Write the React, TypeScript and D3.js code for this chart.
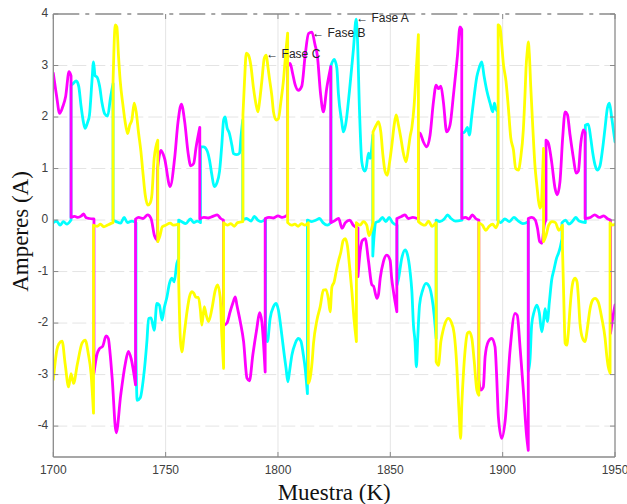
import React from 'react';
import * as d3 from 'd3';

type P = [number, number];

const xTicks = [1700, 1750, 1800, 1850, 1900, 1950];
const yTicks = [-4, -3, -2, -1, 0, 1, 2, 3, 4];
const xDomain: P = [1700, 1950];
const yDomain: P = [-4.6, 4];

// Fase A (cyan) — a repeated x marks a vertical jump
const faseA: P[] = [
  [1700,-0.05],[1701.5,-0.02],[1703,-0.1],[1704.5,-0.03],[1706,-0.08],[1707.9,0.0],
  [1707.9,2.62],[1708.8,2.65],[1710.2,2.7],[1711.3,2.6],[1712.3,2.23],[1713.5,1.88],[1714.2,1.78],[1715.3,1.9],[1716.1,2.04],[1717.2,2.69],[1717.9,3.07],[1718.6,2.8],[1719.4,2.78],[1720.6,2.6],[1721.7,2.27],[1722.8,2.07],[1724.2,2.02],[1725.4,2.36],[1726.6,2.65],
  [1726.6,0.0],[1728,-0.03],[1730,-0.06],[1731.5,0.05],[1733,-0.05],[1735,-0.02],[1736.8,-0.05],
  [1736.8,-2.6],[1737.3,-3.5],[1738.7,-3.45],[1740.2,-3.04],[1741.7,-2.33],[1742.4,-1.91],[1743.5,-1.9],[1744.9,-2.14],[1746.1,-1.62],[1747.2,-1.65],[1748.4,-1.94],[1749.4,-1.7],[1750.6,-1.49],[1751.7,-1.23],[1752.8,-1.13],[1753.8,-1.2],[1755,-0.84],[1755.8,-0.75],
  [1755.8,0.0],[1757,-0.03],[1759,-0.07],[1761,0.02],[1762.5,-0.05],[1764,-0.02],[1765.5,-0.05],
  [1765.5,1.42],[1766.9,1.42],[1768.4,1.35],[1769.5,1.17],[1770.6,0.87],[1771.6,0.65],[1772.8,0.72],[1774,0.95],[1775,1.46],[1775.8,1.94],[1776.5,2.0],[1777.3,1.8],[1778.4,1.68],[1779.5,1.45],[1780.2,1.29],[1781.7,1.27],[1782.9,1.3],[1783.5,1.6],[1784.3,1.94],
  [1784.3,0.0],[1786,0.03],[1788,-0.02],[1789.5,0.07],[1791,0.0],[1792.5,-0.03],[1794.5,0.02],
  [1794.5,-2.3],[1795.3,-2.36],[1796.5,-1.91],[1798,-1.68],[1799.2,-1.62],[1800.2,-1.75],[1801.7,-2.23],[1802.8,-2.62],[1803.6,-2.88],[1804.4,-3.14],[1805.1,-2.95],[1806.2,-2.62],[1807.7,-2.39],[1809.1,-2.3],[1810.2,-2.35],[1811.3,-2.62],[1812.1,-2.88],[1813.1,-3.37],
  [1813.1,0.0],[1815,-0.03],[1817,0.0],[1818.5,0.03],[1820,-0.05],[1822,-0.1],[1823.6,-0.05],
  [1823.6,3.0],[1825,3.12],[1826.2,2.95],[1826.9,2.45],[1828.4,1.9],[1829.1,1.71],[1830.1,1.85],[1831.8,2.5],[1833.6,3.33],[1834.8,3.9],[1835.3,3.6],[1836.3,2.1],[1837.3,1.13],[1838.5,0.95],[1839.2,1.0],[1840.3,1.3],[1841,1.2],[1842.2,1.65],
  [1842.2,-0.7],[1842.8,-0.3],[1843.5,-0.05],[1845,-0.02],[1846.5,0.05],[1848,-0.03],[1849.5,0.05],[1851,-0.05],[1853,-0.1],
  [1853,-1.26],[1853.6,-1.15],[1855.1,-0.74],[1856.6,-0.58],[1857.5,-0.65],[1858.8,-1.0],[1859.6,-1.39],[1860.3,-2.04],[1861,-2.36],[1861.6,-2.85],[1862.2,-2.3],[1863,-1.65],[1864.4,-1.36],[1865.9,-1.23],[1867.4,-1.3],[1868.5,-1.5],[1869.5,-1.84],[1870.4,-2.3],
  [1870.4,0.0],[1872,-0.03],[1874,0.02],[1875.5,0.1],[1877,0.03],[1879,-0.02],[1881.9,0.0],
  [1881.9,1.68],[1883.3,1.72],[1884.3,1.8],[1885.2,1.65],[1886.2,2.0],[1887.3,2.4],[1888.5,2.78],[1889.5,2.95],[1890.7,3.07],[1891.7,2.8],[1892.9,2.52],[1894.4,2.27],[1895.6,2.1],[1896.3,2.27],[1897.1,2.15],[1897.8,2.1],
  [1897.8,0.0],[1899,-0.05],[1901,0.02],[1903,-0.03],[1905,0.05],[1907,-0.02],[1909,-0.07],[1911.4,-0.03],
  [1911.4,-2.94],[1912.2,-2.69],[1912.9,-2.04],[1914,-1.78],[1915.2,-1.65],[1916.3,-1.8],[1917.4,-2.17],[1918.1,-2.0],[1918.9,-1.72],[1919.9,-1.97],[1920.8,-1.59],[1921.8,-1.17],[1922.9,-0.95],[1924,-0.74],[1924.8,-0.65],[1925.5,-0.55],[1926.4,-0.36],
  [1926.4,-0.05],[1928,0.0],[1929.5,-0.08],[1931,-0.03],[1932.5,0.05],[1934,-0.02],[1936.8,-0.05],
  [1936.8,1.84],[1938.1,1.86],[1939.2,1.59],[1940.1,1.3],[1941.1,1.07],[1942.1,0.97],[1943.3,1.05],[1944.5,1.39],[1945.6,1.8],[1946.6,2.17],[1947.5,2.27],[1948.5,2.0],[1949.4,1.71],[1950,1.52],
];

// Fase B (magenta)
const faseB: P[] = [
  [1700,2.85],[1701.5,2.4],[1702.8,2.07],[1704.2,2.2],[1705.5,2.4],[1707,2.88],[1707.9,2.8],
  [1707.9,0.05],[1709.5,0.07],[1711,0.05],[1712.5,0.08],[1713.5,0.12],[1714.5,0.05],[1716,0.03],[1718.1,0.02],
  [1718.1,-2.97],[1719.5,-2.6],[1720.5,-2.5],[1722,-2.45],[1723.5,-2.25],[1724.5,-2.3],[1725.3,-2.6],[1726.2,-3.07],[1728,-4.13],[1730,-3.4],[1732,-2.8],[1733.4,-2.55],[1734.7,-2.7],[1736.6,-3.2],
  [1736.6,0.02],[1738,0.05],[1740,0.03],[1742,0.1],[1743.5,0.03],[1745,-0.3],[1746.4,-0.4],
  [1746.4,1.0],[1747.9,1.35],[1749.5,1.2],[1752,0.65],[1754,1.2],[1755.5,1.9],[1757,2.25],[1758.5,1.9],[1760,1.3],[1761.2,1.05],[1762.5,1.1],[1763.5,1.4],[1765.2,1.8],
  [1765.2,0.02],[1767,0.05],[1769,0.04],[1771,0.07],[1773,0.1],[1774.5,0.03],[1775.7,0.0],
  [1775.7,-2.05],[1777.3,-2.0],[1778.7,-1.78],[1780,-1.6],[1781,-1.49],[1781.7,-1.65],[1783.2,-1.97],[1784.7,-2.36],[1786.2,-3.07],[1787.3,-3.12],[1788.8,-2.62],[1790.6,-2.1],[1791.8,-1.8],[1792.8,-1.97],[1794.3,-2.95],
  [1794.3,0.03],[1796,0.05],[1798,0.04],[1800,0.08],[1802,0.05],[1804.3,0.1],
  [1804.3,2.98],[1805.4,3.04],[1806.5,2.85],[1807.5,2.65],[1809.1,2.52],[1810.6,2.6],[1812.1,3.2],[1813.6,3.62],[1815.1,3.65],[1816.5,3.4],[1817.5,3.2],[1819,2.43],[1820.2,2.1],[1821.7,2.56],[1823.5,2.98],
  [1823.5,-0.05],[1825,-0.02],[1827,0.03],[1828.5,-0.16],[1830,-0.05],[1832,0.0],[1833.5,-0.1],[1835.6,-0.15],
  [1835.6,-1.1],[1836.6,-0.6],[1837.5,-0.4],[1838.8,-0.36],[1840.3,-0.8],[1841.8,-1.26],[1842.5,-1.28],[1844,-1.52],[1844.7,-1.45],[1845.5,-1.13],[1846.9,-0.81],[1848.4,-0.68],[1849.9,-0.78],[1850.6,-1.13],[1851.4,-1.39],[1852.9,-1.78],
  [1852.9,0.03],[1855,0.07],[1856.5,0.1],[1858,0.03],[1860,0.05],[1862.5,0.02],
  [1862.5,1.7],[1863.3,1.68],[1864.7,1.52],[1866.2,1.42],[1867.7,1.65],[1869.2,2.3],[1870.4,2.62],[1871.4,2.55],[1872.5,2.6],[1873.6,2.3],[1875.1,1.71],[1876.6,1.85],[1878.1,2.43],[1879.9,3.2],[1881,3.75],[1881.8,3.7],
  [1881.8,0.03],[1883.5,0.05],[1885,0.02],[1886.5,0.1],[1888,0.03],[1889.4,0.0],
  [1889.4,-3.1],[1890.2,-3.3],[1891.4,-3.24],[1892.2,-2.65],[1893.6,-2.36],[1895.1,-2.3],[1896.6,-2.46],[1897.3,-3.0],[1898.1,-3.82],[1899.6,-4.24],[1901.1,-3.9],[1903.3,-2.52],[1905.5,-1.81],[1906.5,-1.85],[1907.8,-2.5],[1909.2,-3.3],[1910.7,-4.21],[1911.4,-4.47],
  [1911.4,0.03],[1913,0.05],[1914.5,0.0],[1915.5,-0.16],[1916.5,-0.42],[1917.5,-0.45],[1918.5,-0.1],[1919.3,0.0],
  [1919.3,1.55],[1920.3,1.5],[1921.8,1.13],[1923.3,0.62],[1924.3,0.49],[1925.5,0.74],[1926.7,1.59],[1927.8,2.1],[1928.8,2.05],[1930,1.65],[1931.5,1.2],[1932.7,0.91],[1933.7,0.95],[1934.7,1.46],[1935.9,1.75],[1936.7,1.7],
  [1936.7,0.03],[1939,0.05],[1941,0.1],[1943,0.05],[1945,0.08],[1946.5,0.03],[1948,0.0],
  [1948,-2.2],[1949,-1.9],[1950,-1.65],
];

// Fase C (yellow)
const faseC: P[] = [
  [1700,-3.1],[1701.6,-2.52],[1702.5,-2.4],[1703.9,-2.35],[1705.3,-2.8],[1706.8,-3.24],[1707.9,-2.98],[1709,-3.17],[1710.7,-2.8],[1712.8,-2.39],[1714.2,-2.33],[1715.6,-2.6],[1716.8,-2.98],[1717.9,-3.75],
  [1717.9,-0.1],[1719.5,-0.12],[1721,-0.08],[1722.5,-0.13],[1724,-0.1],[1725.5,-0.07],[1726.6,-0.05],
  [1726.6,2.69],[1727.6,3.79],[1728.3,3.75],[1729,3.2],[1729.8,2.69],[1731,2.23],[1732,1.9],[1733.1,1.68],[1734,1.84],[1735,1.95],[1736,2.27],[1736.9,2.1],[1737.9,1.71],[1739,1.33],[1740,0.87],[1740.9,0.49],[1742.1,0.29],[1743.1,0.33],[1743.9,0.5],[1744.9,1.2],[1746.5,1.55],
  [1746.5,-0.42],[1747.5,-0.3],[1748.5,-0.13],[1750,-0.1],[1752,-0.06],[1753.5,-0.1],[1755.8,-0.08],
  [1755.8,-1.2],[1756.5,-2.27],[1757.2,-2.56],[1758.3,-2.2],[1759.5,-1.78],[1760.6,-1.49],[1761.7,-1.39],[1762.5,-1.42],[1763.5,-1.5],[1764.6,-1.5],[1765.4,-1.72],[1766.1,-2.04],[1767.2,-1.68],[1768.1,-1.85],[1769.1,-1.97],[1770.6,-1.72],[1772.1,-1.36],[1773.1,-1.26],[1774.3,-1.5],[1775,-2.23],[1775.8,-2.88],
  [1775.8,-0.05],[1777.5,-0.1],[1779,-0.07],[1780.5,-0.12],[1782,-0.05],[1784.4,-0.03],
  [1784.4,2.04],[1785.1,2.69],[1785.9,3.24],[1786.9,3.2],[1787.9,3.01],[1789.1,2.56],[1790.3,2.23],[1791.1,2.1],[1791.8,2.3],[1792.8,2.69],[1793.9,3.14],[1794.8,3.2],[1795.5,2.98],[1796.2,2.75],[1797.3,2.4],[1798,2.1],[1799.2,1.94],[1800.2,1.97],[1801.3,2.3],[1802.4,2.69],[1803.5,3.27],[1804.3,3.63],
  [1804.3,-0.05],[1806,-0.1],[1807.5,-0.08],[1809,-0.12],[1810.5,-0.07],[1812,-0.1],[1813.5,-0.05],
  [1813.5,-3.17],[1814.3,-3.07],[1815.2,-2.75],[1815.8,-2.4],[1817.3,-1.95],[1818.8,-1.68],[1820.2,-1.36],[1821.4,-1.35],[1822.5,-1.55],[1823.2,-1.78],[1824,-1.3],[1825,-1.2],[1825.9,-1.0],[1826.9,-0.8],[1828,-0.62],[1829,-0.4],[1829.9,-0.36],[1830.9,-0.5],[1831.8,-0.87],[1832.9,-1.39],[1833.9,-1.95],[1834.9,-2.36],
  [1834.9,-0.05],[1836.5,-0.1],[1838,-0.03],[1839.5,-0.1],[1840.5,-0.3],[1841.5,-0.2],[1842.3,-0.05],
  [1842.3,1.71],[1843.7,1.84],[1844.7,1.91],[1845.8,1.7],[1846.7,1.26],[1847.7,0.94],[1848.7,0.87],[1849.6,1.1],[1850.7,1.46],[1851.7,1.84],[1852.6,2.04],[1853.6,1.85],[1854.7,1.59],[1855.8,1.3],[1857,1.13],[1858.1,1.4],[1858.8,1.62],[1859.6,1.8],[1860.6,2.23],[1861.5,2.88],[1862.5,3.6],
  [1862.5,-0.03],[1864,-0.08],[1865.5,-0.1],[1867,-0.02],[1868.5,-0.12],[1870.4,-0.05],
  [1870.4,-2.75],[1871.4,-2.82],[1872.5,-2.36],[1873.5,-2.14],[1874.4,-2.0],[1875.8,-1.91],[1877,-1.97],[1878.4,-2.2],[1879.6,-2.85],[1880.2,-3.4],[1880.7,-3.82],[1881.3,-4.24],[1881.8,-3.6],[1882.5,-3.01],[1883.3,-2.52],[1884.3,-2.2],[1885.2,-2.17],[1886.3,-2.3],[1887.3,-2.72],[1888.5,-3.3],[1889.4,-3.4],
  [1889.4,-0.05],[1891,-0.1],[1892.5,-0.2],[1894,-0.12],[1895.5,-0.08],[1897,-0.15],[1898,-0.05],
  [1898,3.79],[1898.8,3.75],[1899.6,3.4],[1900.3,3.04],[1901.5,2.69],[1902.5,2.2],[1903.6,1.6],[1904.8,1.36],[1905.8,1.0],[1907,0.97],[1908,1.2],[1909.2,1.75],[1910,2.5],[1910.4,2.95],[1911,3.3],[1911.4,3.46],[1911.9,3.2],[1912.5,2.59],[1913.4,1.81],[1914.4,1.04],[1915.2,0.68],[1915.9,0.39],[1916.6,0.23],[1917.2,0.3],[1917.8,0.91],[1918.2,1.39],
  [1918.2,-0.42],[1919.3,-0.3],[1920.5,-0.1],[1922,-0.03],[1923.5,-0.05],[1925,-0.2],[1926.6,-0.1],
  [1926.6,-0.5],[1927.3,-1.7],[1927.8,-2.39],[1928.5,-2.43],[1929.2,-2.2],[1930,-1.7],[1930.7,-1.36],[1931.5,-1.17],[1932.2,-1.13],[1933.1,-1.2],[1933.7,-1.5],[1934.4,-2.0],[1935.6,-2.3],[1936.7,-2.36],[1937.7,-2.1],[1938.9,-1.72],[1940.1,-1.55],[1941.1,-1.52],[1942.6,-1.6],[1944.1,-1.9],[1945.6,-2.3],[1946.3,-2.62],[1947,-2.85],[1947.8,-2.97],
  [1947.8,-0.05],[1949,-0.1],[1950,-0.08],
];

const seriesNames = ['Fase A', 'Fase B', 'Fase C'];
const seriesColors = ['#00ffff', '#ff00ff', '#ffff00'];
const annotationPoints: P[] = [[1834.8, 3.9], [1815.2, 3.62], [1794.8, 3.2]];

const W = 627, H = 504;
const left = 53.3, right = 615, top = 14, bottom = 457;

function buildPath(pts: P[], x: d3.ScaleLinear<number, number>, y: d3.ScaleLinear<number, number>) {
  const runs: P[][] = [];
  let cur: P[] = [pts[0]];
  for (let i = 1; i < pts.length; i++) {
    if (pts[i][0] <= pts[i - 1][0]) { runs.push(cur); cur = [pts[i]]; }
    else cur.push(pts[i]);
  }
  runs.push(cur);
  const line = d3.line<P>().x(d => x(d[0])).y(d => y(d[1])).curve(d3.curveMonotoneX);
  return runs.map((r, i) => {
    const s = line(r) || '';
    return i === 0 ? s : 'L' + s.slice(1);
  }).join('');
}

export default function App() {
  const x = d3.scaleLinear().domain(xDomain).range([left, right]);
  const y = d3.scaleLinear().domain(yDomain).range([bottom, top]);
  const data = [faseA, faseB, faseC];
  const axisColor = '#8a8a8a';
  const gridColor = '#e4e4e4';
  const tickLen = 5;
  return (
    <svg width={W} height={H} style={{ position: 'fixed', left: 0, top: 0, background: '#fff' }}
      fontFamily="'Liberation Sans', Arial, sans-serif">
      <rect x={0} y={0} width={W} height={H} fill="#fff" />
      <defs>
        <clipPath id="plotClip">
          <rect x={left} y={top - 2} width={right - left} height={bottom - top + 2} />
        </clipPath>
      </defs>
      {/* grid */}
      {xTicks.slice(1, -1).map(t => (
        <line key={'gx' + t} x1={x(t)} x2={x(t)} y1={top} y2={bottom} stroke={gridColor} strokeWidth={1} />
      ))}
      {yTicks.slice(0, -1).map(t => (
        <line key={'gy' + t} x1={left} x2={right} y1={y(t)} y2={y(t)} stroke={gridColor} strokeWidth={1} strokeDasharray="14,5" />
      ))}
      {/* series */}
      <g clipPath="url(#plotClip)">
        {data.map((pts, i) => (
          <path key={seriesNames[i]} d={buildPath(pts, x, y)} fill="none" stroke={seriesColors[i]}
            strokeWidth={2.8} strokeLinejoin="round" strokeLinecap="round" />
        ))}
      </g>
      {/* axes box */}
      <line x1={left} x2={left} y1={top} y2={bottom} stroke={axisColor} strokeWidth={1.3} />
      <line x1={left} x2={right} y1={bottom} y2={bottom} stroke={axisColor} strokeWidth={1.5} />
      <line x1={right} x2={right} y1={top} y2={bottom} stroke={axisColor} strokeWidth={1.3} />
      <line x1={left} x2={right} y1={top} y2={top} stroke={axisColor} strokeWidth={1.3} strokeDasharray="26,6,4,6" />
      {/* ticks */}
      {xTicks.map(t => (
        <g key={'xt' + t}>
          <line x1={x(t)} x2={x(t)} y1={bottom} y2={bottom - tickLen} stroke={axisColor} />
          <line x1={x(t)} x2={x(t)} y1={top} y2={top + tickLen} stroke={axisColor} />
          <text x={x(t)} y={bottom + 14} textAnchor="middle" dominantBaseline="middle" fontSize={12} fill="#404040">{t}</text>
        </g>
      ))}
      {yTicks.map(t => (
        <g key={'yt' + t}>
          <line x1={left} x2={left + tickLen} y1={y(t)} y2={y(t)} stroke={axisColor} />
          <line x1={right} x2={right - tickLen} y1={y(t)} y2={y(t)} stroke={axisColor} />
          <text x={left - 5} y={y(t)} textAnchor="end" dominantBaseline="middle" fontSize={12} fill="#404040">{t}</text>
        </g>
      ))}
      {/* annotations */}
      {annotationPoints.map((p, i) => (
        <text key={'an' + i} x={x(p[0])} y={y(p[1])} dominantBaseline="middle" fontSize={12} fill="#262626">
          {'\u2190 ' + seriesNames[i]}
        </text>
      ))}
      {/* axis labels */}
      <text x={(left + right) / 2} y={500} textAnchor="middle" fontFamily="'Liberation Serif', 'Times New Roman', serif"
        fontSize={23} fill="#111">Muestra (K)</text>
      <text transform={`translate(28, ${(top + bottom) / 2 - 4}) rotate(-90)`} textAnchor="middle"
        fontFamily="'Liberation Serif', 'Times New Roman', serif" fontSize={23} fill="#111">Amperes (A)</text>
    </svg>
  );
}
